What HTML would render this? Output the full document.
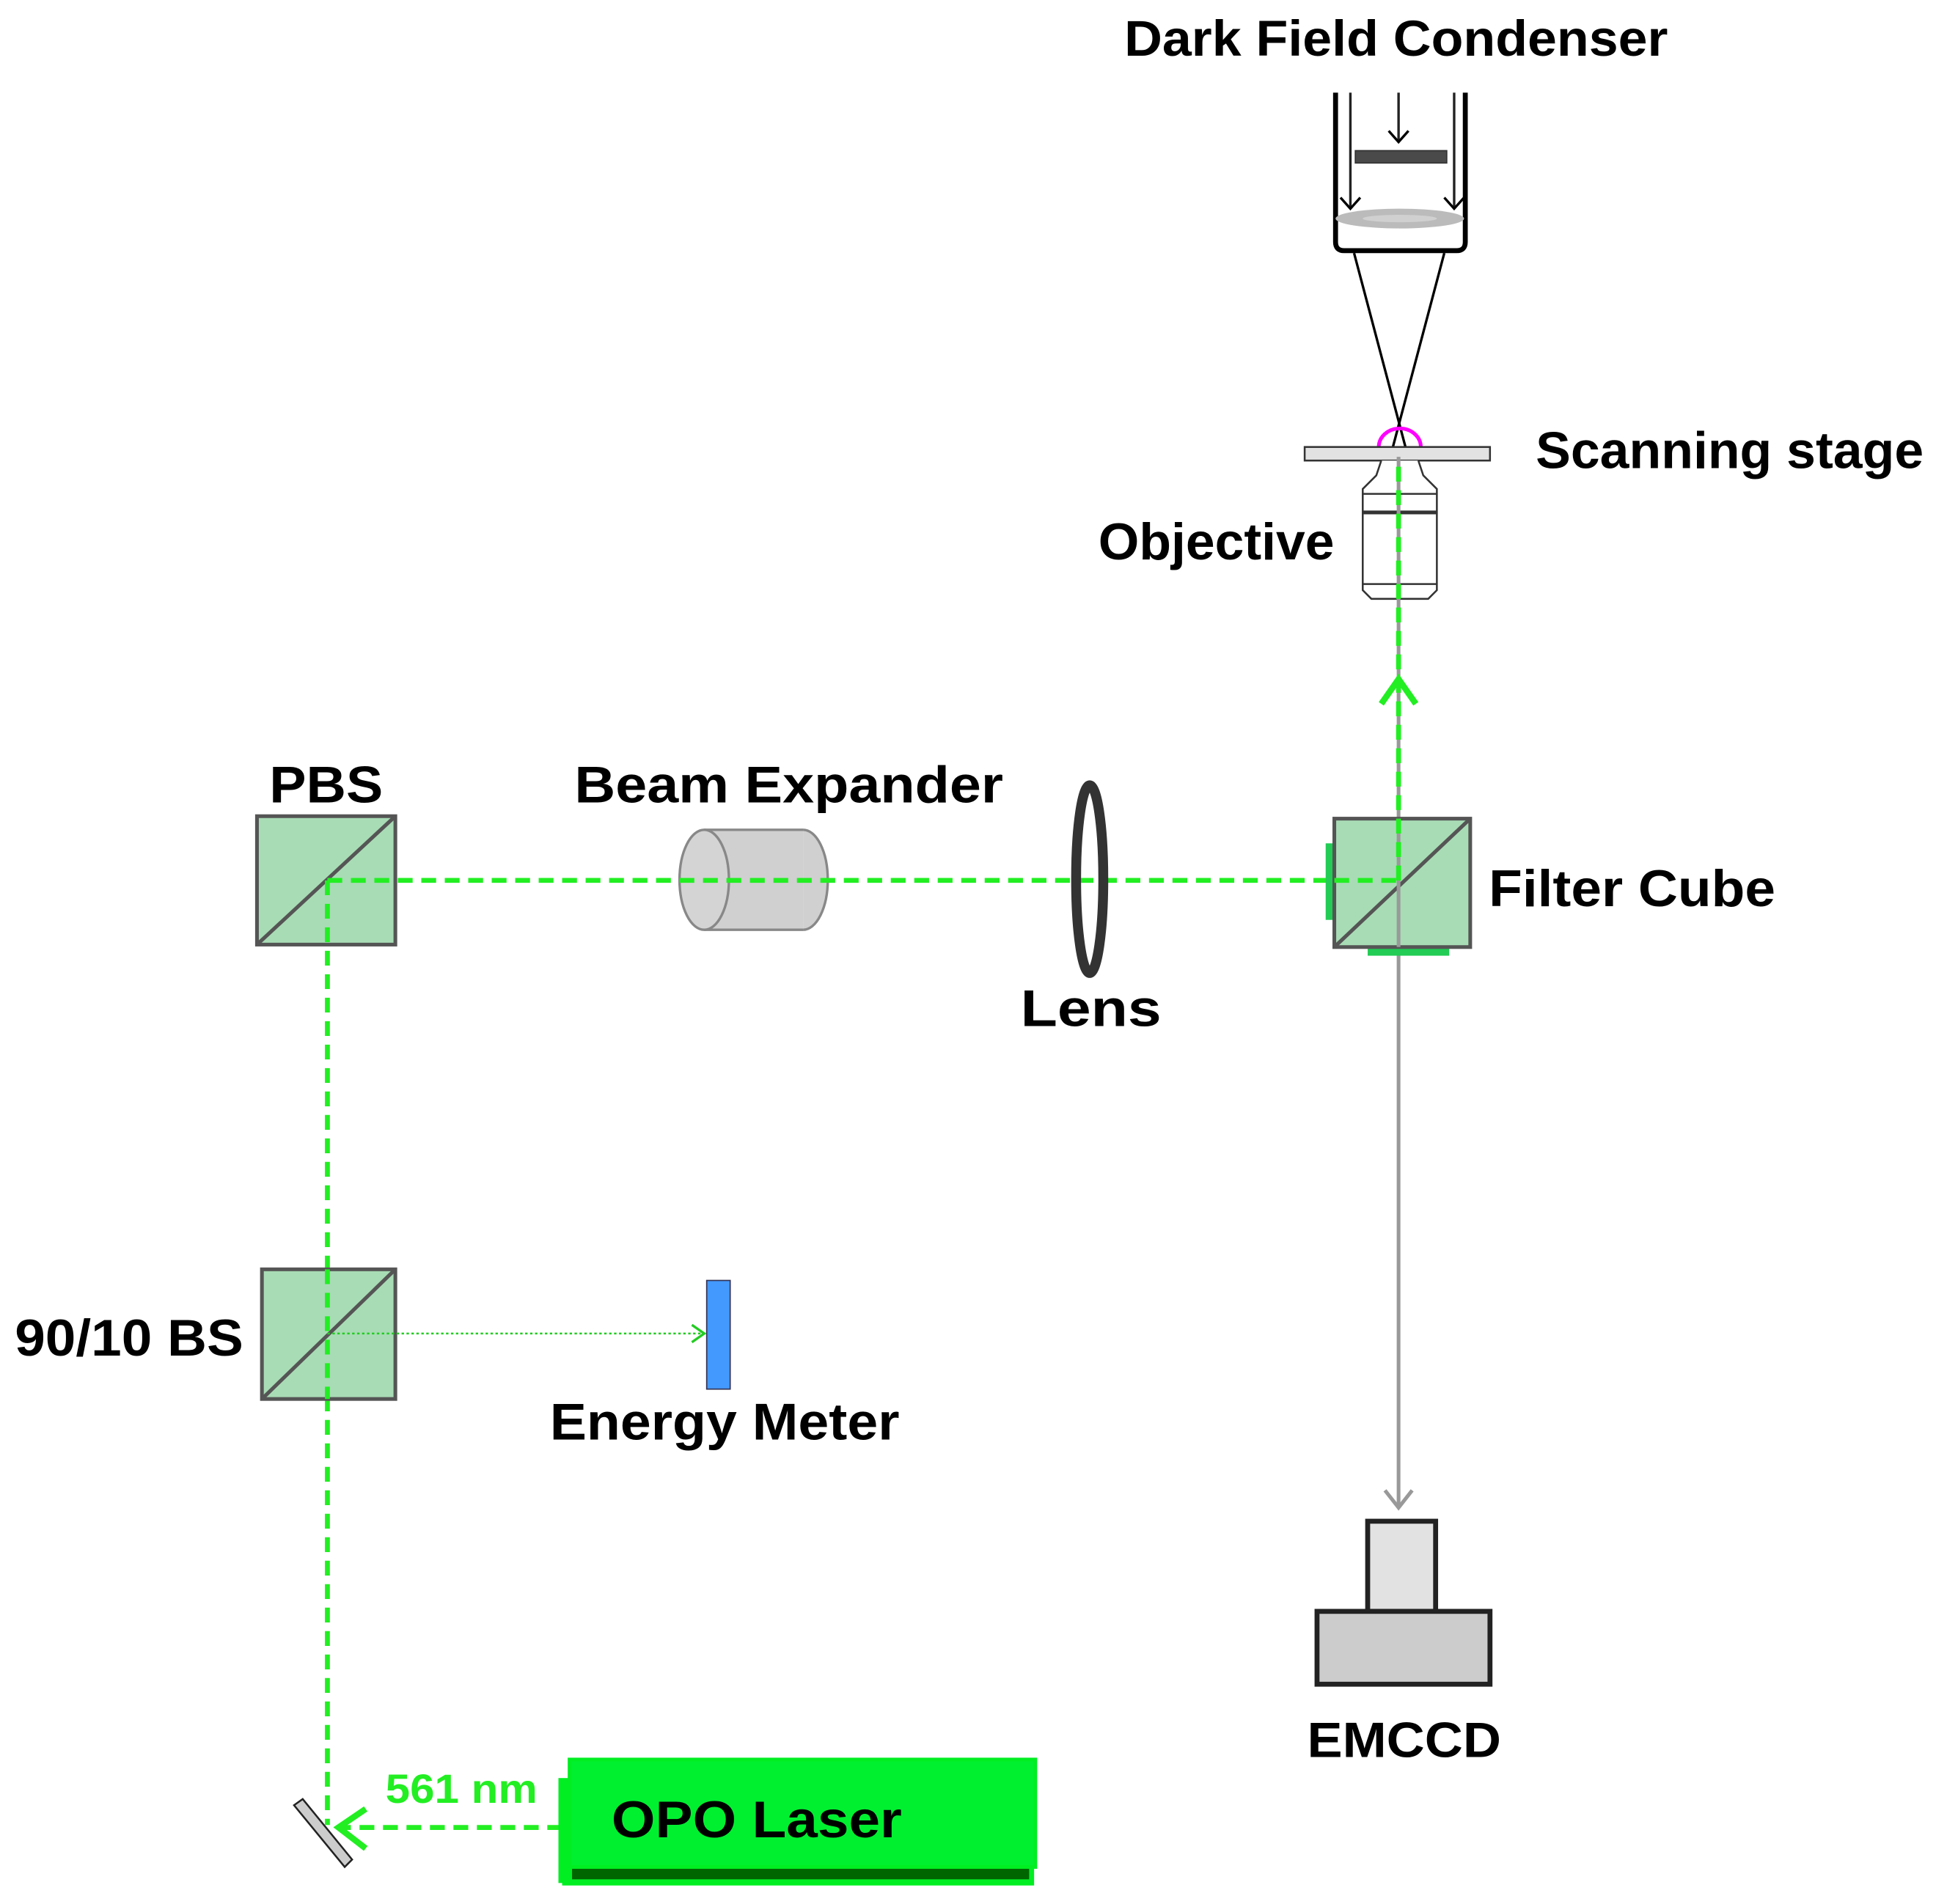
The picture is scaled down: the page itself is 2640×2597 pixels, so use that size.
<!DOCTYPE html>
<html><head><style>html,body{margin:0;padding:0;background:#fff}svg{display:block}</style></head>
<body>
<svg width="2640" height="2597" viewBox="0 0 1567 1542" preserveAspectRatio="none" xmlns="http://www.w3.org/2000/svg" font-family="Liberation Sans, Arial, sans-serif" font-weight="bold">
<rect width="1567" height="1542" fill="#fff"/>
<text x="910" y="45" font-size="41" textLength="440" lengthAdjust="spacingAndGlyphs">Dark Field Condenser</text>
<!-- condenser -->
<path d="M1081 75 V196 Q1081 203 1088 203 H1179 Q1186 203 1186 196 V75" fill="none" stroke="#000" stroke-width="4"/>
<line x1="1132" y1="75" x2="1132" y2="114" stroke="#222" stroke-width="2"/>
<path d="M1124 106 L1132 115 L1140 106" fill="none" stroke="#000" stroke-width="2"/>
<rect x="1097" y="122" width="74" height="10" fill="#4a4a4a" stroke="#333"/>
<line x1="1093" y1="75" x2="1093" y2="168" stroke="#222" stroke-width="2"/>
<path d="M1085 160 L1093 169 L1101 160" fill="none" stroke="#000" stroke-width="2"/>
<line x1="1177" y1="75" x2="1177" y2="168" stroke="#222" stroke-width="2"/>
<path d="M1169 160 L1177 169 L1185 160" fill="none" stroke="#000" stroke-width="2"/>
<ellipse cx="1133" cy="177" rx="52" ry="8" fill="#bbb"/>
<ellipse cx="1133" cy="177" rx="30" ry="3" fill="#d0d0d0"/>
<line x1="1096" y1="205" x2="1145" y2="390" stroke="#000" stroke-width="2"/>
<line x1="1169" y1="205" x2="1120" y2="390" stroke="#000" stroke-width="2"/>
<path d="M1116 362 A17 15 0 0 1 1150 362" fill="none" stroke="#ff00ff" stroke-width="3"/>
<rect x="1056" y="362" width="150" height="11" fill="#e2e2e2" stroke="#333" stroke-width="1.5"/>
<!-- objective -->
<path d="M1118 373 L1114 385 L1103 396 V478 L1110 485 H1156 L1163 478 V396 L1152 385 L1148 373" fill="#fff" stroke="#333" stroke-width="1.5"/>
<line x1="1103" y1="400" x2="1163" y2="400" stroke="#333" stroke-width="1.5"/>
<line x1="1103" y1="415" x2="1163" y2="415" stroke="#333" stroke-width="3"/>
<line x1="1103" y1="473" x2="1163" y2="473" stroke="#333" stroke-width="1.5"/>
<text x="1243" y="379" font-size="42" textLength="314" lengthAdjust="spacingAndGlyphs">Scanning stage</text>
<text x="889" y="453" font-size="42" textLength="191" lengthAdjust="spacingAndGlyphs">Objective</text>
<!-- gray imaging line -->
<line x1="1132" y1="370" x2="1132" y2="1220" stroke="#999" stroke-width="3"/>
<path d="M1121 1207 L1132 1221 L1143 1207" fill="none" stroke="#999" stroke-width="3"/>
<g stroke="#22ee22" stroke-width="4" stroke-dasharray="12,7" fill="none">
<line x1="455" y1="1480" x2="276" y2="1480"/>
</g>
<path d="M1118 570 L1132 550 L1146 570" fill="none" stroke="#22ee22" stroke-width="5"/>
<path d="M296 1465 L274 1480 L296 1497" fill="none" stroke="#22ee22" stroke-width="5"/>
<!-- PBS -->
<rect x="208" y="661" width="112" height="104" fill="#a8dcb5" stroke="#555" stroke-width="3"/>
<line x1="208" y1="765" x2="320" y2="661" stroke="#555" stroke-width="3"/>
<text x="218" y="650" font-size="42" textLength="92" lengthAdjust="spacingAndGlyphs">PBS</text>
<!-- beam expander -->
<rect x="570" y="672" width="80" height="81" fill="#d0d0d0"/>
<line x1="570" y1="672" x2="650" y2="672" stroke="#888" stroke-width="2"/>
<line x1="570" y1="753" x2="650" y2="753" stroke="#888" stroke-width="2"/>
<path d="M650 672 A20 40.5 0 0 1 650 753" fill="#d0d0d0" stroke="#888" stroke-width="2"/>
<ellipse cx="570" cy="712.5" rx="20" ry="40.5" fill="#d4d4d4" stroke="#888" stroke-width="2"/>
<g stroke="#22ee22" stroke-width="4" stroke-dasharray="12,7" fill="none">
<line x1="265" y1="713" x2="1132" y2="713"/>
<line x1="1132" y1="713" x2="1132" y2="372"/>
<line x1="265" y1="713" x2="265" y2="1478"/>
</g>
<text x="465" y="650" font-size="42" textLength="347" lengthAdjust="spacingAndGlyphs">Beam Expander</text>
<!-- lens -->
<ellipse cx="882" cy="712" rx="11" ry="76" fill="none" stroke="#333" stroke-width="8"/>
<text x="826" y="831" font-size="42" textLength="114" lengthAdjust="spacingAndGlyphs">Lens</text>
<!-- filter cube -->
<rect x="1073" y="683" width="8" height="62" fill="#22cc55"/>
<rect x="1107" y="766" width="66" height="8" fill="#22cc55"/>
<rect x="1080" y="663" width="110" height="104" fill="#a8dcb5" stroke="#555" stroke-width="3"/>
<line x1="1080" y1="767" x2="1190" y2="663" stroke="#555" stroke-width="3"/>
<line x1="1132" y1="663" x2="1132" y2="767" stroke="#999" stroke-width="3"/>
<line x1="1080" y1="713" x2="1132" y2="713" stroke="#22ee22" stroke-width="4" stroke-dasharray="12,7"/>
<line x1="1132" y1="713" x2="1132" y2="663" stroke="#22ee22" stroke-width="4" stroke-dasharray="12,7"/>
<text x="1205" y="734" font-size="42" textLength="232" lengthAdjust="spacingAndGlyphs">Filter Cube</text>
<!-- 90/10 BS -->
<rect x="212" y="1028" width="108" height="105" fill="#a8dcb5" stroke="#555" stroke-width="3"/>
<line x1="212" y1="1133" x2="320" y2="1028" stroke="#555" stroke-width="3"/>
<line x1="265" y1="1028" x2="265" y2="1133" stroke="#22ee22" stroke-width="4" stroke-dasharray="12,7"/>
<line x1="265" y1="1080" x2="569" y2="1080" stroke="#22cc22" stroke-width="1.5" stroke-dasharray="2,2"/>
<path d="M560 1073 L570 1080 L560 1087" fill="none" stroke="#22cc22" stroke-width="2"/>
<text x="12" y="1098" font-size="42" textLength="185" lengthAdjust="spacingAndGlyphs">90/10 BS</text>
<rect x="572" y="1037" width="19" height="88" fill="#4499ff" stroke="#335" stroke-width="1"/>
<text x="445" y="1166" font-size="42" textLength="283" lengthAdjust="spacingAndGlyphs">Energy Meter</text>
<!-- EMCCD -->
<rect x="1107" y="1232" width="55" height="73" fill="#e2e2e2" stroke="#222" stroke-width="4"/>
<rect x="1066" y="1305" width="140" height="59" fill="#ccc" stroke="#222" stroke-width="4"/>
<text x="1058" y="1423" font-size="40" textLength="157" lengthAdjust="spacingAndGlyphs">EMCCD</text>
<!-- mirror -->
<polygon points="238,1462 245,1457 285,1506 279,1512" fill="#ccc" stroke="#222" stroke-width="1.5"/>
<text x="312" y="1460" font-size="33" fill="#22ee22" textLength="123" lengthAdjust="spacingAndGlyphs">561 nm</text>
<!-- OPO laser -->
<rect x="452" y="1440" width="16" height="85" fill="#00ee22"/>
<rect x="455" y="1507" width="382" height="20" fill="#00ee22"/>
<rect x="463" y="1510" width="370" height="12" fill="#006600"/>
<rect x="461" y="1425" width="377" height="87" fill="#00f030" stroke="#00ee22" stroke-width="3"/>
<text x="495" y="1488" font-size="42" textLength="235" lengthAdjust="spacingAndGlyphs">OPO Laser</text>
</svg>
</body></html>
